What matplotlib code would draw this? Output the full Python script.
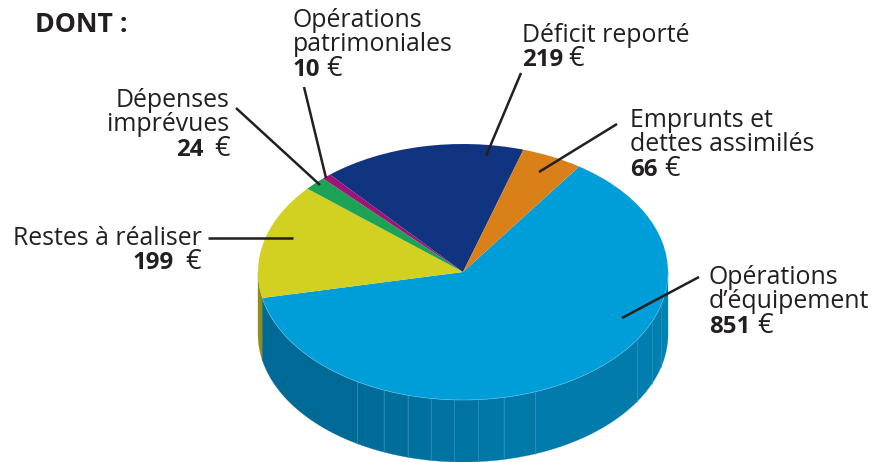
import matplotlib
matplotlib.use("Agg")
import matplotlib.pyplot as plt
import numpy as np

# Valeurs, dans le sens horaire depuis le haut droit
labels = ["Opérations\nd’équipement", "Restes à réaliser", "Dépenses\nimprévues",
          "Opérations\npatrimoniales", "Déficit reporté", "Emprunts et\ndettes assimilés"]
values = [851, 199, 24, 10, 219, 66]
colors = ["#009ed8", "#d2d020", "#1ca355", "#a01378", "#103480", "#d98019"]

plt.rcParams["font.family"] = ["Open Sans", "DejaVu Sans"]
INK = "#231f20"
FS = 17.9

W, H = 881, 462
CX, CY, RX, RY = 463, 272, 205, 128
DEPTH = 62 / RY
START = 55.5

fig = plt.figure(figsize=(W / 100, H / 100), dpi=100)
ax = fig.add_axes([0, 0, 1, 1])
ax.pie(values, colors=colors, startangle=START, counterclock=False, radius=1,
       wedgeprops={"linewidth": 0.3, "edgecolor": "none"})
ax.set_aspect("auto")
ax.set_xlim(-CX / RX, (W - CX) / RX)
ax.set_ylim(-(H - CY) / RY, CY / RY)

# Paroi du cylindre : le bleu couvre la fin de sa part, puis le jaune
blue_end = START - 360 * values[0] / sum(values)
facets = [blue_end, -121.1, -112.7, -105.6, -99, -92.5, -85.8, -78.5, -69.4, -31.9, -22.8, -15, 0]


def wall(a0, a1, color):
    t = np.radians(np.linspace(a0, a1, 40))
    xs = np.r_[np.cos(t), np.cos(t[::-1])]
    ys = np.r_[np.sin(t), np.sin(t[::-1]) - DEPTH]
    ax.fill(xs, ys, color=color, lw=0.2, zorder=0.5)


wall(-180, blue_end, "#8f8d12")
shades = np.linspace(0, 1, len(facets) - 1)
for a0, a1, s in zip(facets[:-1], facets[1:], shades):
    c = (0, (106 + 24 * s) / 255, (150 + 30 * s) / 255)
    wall(a0, a1, c)
for a in facets[1:-1]:
    t = np.radians(a)
    ax.plot([np.cos(t)] * 2, [np.sin(t), np.sin(t) - DEPTH], color="#3f97bc", lw=0.4, zorder=0.7)
t = np.radians(np.linspace(blue_end, 0, 200))
ax.plot(np.cos(t), np.sin(t), color="#6cc2e4", lw=0.4, zorder=2)

# Textes et traits de rappel en pixels
ov = fig.add_axes([0, 0, 1, 1])
ov.set_xlim(0, W)
ov.set_ylim(H, 0)
ov.axis("off")
ov.patch.set_alpha(0)

leaders = [((699, 277), (622, 318)), ((208, 238), (293, 238)), ((236, 108), (320, 185)),
           ((304, 87), (326, 178)), ((521, 73), (486, 156)), ((617, 124), (539, 172))]
for p0, p1 in leaders:
    ov.plot([p0[0], p1[0]], [p0[1], p1[1]], color=INK, lw=1.8, solid_capstyle="butt")

# x, premiere ligne de base, alignement, x du nombre, x de l'euro
placement = [(709, 284, "left", 709, 757), (13, 245, "left", 174, 201), (229, 107, "right", 203, 230),
             (293, 27, "left", 293, 326), (522, 42, "left", 522, 568), (630, 127, "left", 630, 664)]
for lab, v, (x, y, ha, xn, xe) in zip(labels, values, placement):
    lines = lab.split("\n")
    for i, line in enumerate(lines):
        ov.text(x, y + i * 24.3, line, ha=ha, va="baseline", fontsize=FS, color=INK)
    yb = y + len(lines) * 24.3
    right = ha == "right" or lab.startswith("Restes")
    ov.text(xn, yb, str(v), ha="right" if right else "left", va="baseline",
            fontsize=17.3, fontweight="bold", color=INK)
    ov.text(xe, yb, "€", ha="right" if right else "left", va="baseline",
            fontsize=19.5, color=INK)

ov.text(35, 32, "DONT :", ha="left", va="baseline", fontsize=19.3, fontweight="bold", color=INK)

fig.savefig("out.png", dpi=100)
